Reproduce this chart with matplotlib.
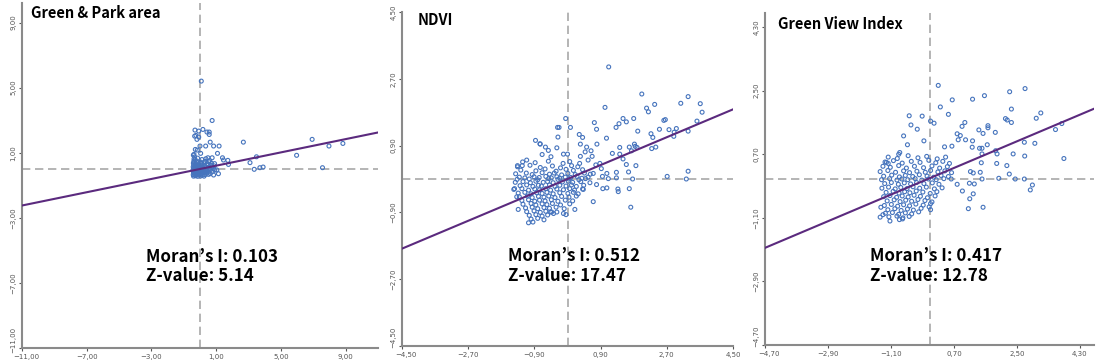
import numpy as np
import matplotlib.pyplot as plt
from matplotlib.transforms import ScaledTranslation

# Moran scatter plots: standardized value (x) vs spatial lag (y)

titles = ['Green & Park area', 'NDVI', 'Green View Index']
moran_i = ['0.103', '0.512', '0.417']
z_values = ['5.14', '17.47', '12.78']

# fitted line slopes / intercepts
slopes = [0.204, 0.417, 0.419]
intercepts = [0.0, 0.0, 0.02]

ticks_gp = [-11, -7, -3, 1, 5, 9]
ticks_ndvi = [-4.5, -2.7, -0.9, 0.9, 2.7, 4.5]
ticks_gvi = [-4.7, -2.9, -1.1, 0.7, 2.5, 4.3]

# Green & Park area points
gp_pts = np.array([
    (0.08, 5.40), (0.75, 2.98), (0.18, 2.43), (-0.31, 2.39), (0.43, 2.27), (0.57, 2.27),
    (0.57, 2.12), (-0.25, 2.06), (-0.08, 1.96), (0.63, 1.65), (0.35, 1.41), (0.84, 1.41),
    (1.18, 1.41), (2.68, 1.65), (6.93, 1.82), (8.83, 1.57), (7.97, 1.41), (5.97, 0.84),
    (3.49, 0.75), (3.09, 0.39), (3.70, 0.08), (3.90, 0.12), (3.35, -0.02), (7.57, 0.08),
    (1.72, 0.53), (1.76, 0.28), (1.39, 0.69), (1.45, 0.55), (1.08, 0.96), (0.75, 0.69),
    (0.49, 0.69), (0.04, 0.96), (-0.17, 1.16), (0.00, 1.41), (-0.19, 1.82), (-0.33, 2.02),
    (-0.08, 2.33), (-0.37, 0.90), (-0.29, 1.20), (0.90, 0.33), (1.14, -0.29), (0.84, -0.37),
    (1.04, -0.06),
    (-0.38, 0.48), (-0.22, 0.45), (0.05, 0.42), (0.31, 0.47), (0.55, 0.44),
    (-0.41, 0.36), (-0.28, 0.33), (-0.12, 0.38), (0.09, 0.34), (0.24, 0.37), (0.44, 0.32), (0.71, 0.35),
    (-0.39, 0.24), (-0.31, 0.21), (-0.18, 0.26), (-0.04, 0.22), (0.12, 0.25), (0.29, 0.20), (0.48, 0.24),
    (0.66, 0.22), (0.88, 0.19),
    (-0.42, 0.13), (-0.33, 0.11), (-0.24, 0.15), (-0.11, 0.12), (0.02, 0.14), (0.16, 0.10), (0.33, 0.13),
    (0.51, 0.11), (0.74, 0.14),
    (-0.40, 0.03), (-0.29, 0.05), (-0.19, 0.01), (-0.07, 0.04), (0.06, 0.02), (0.21, 0.05), (0.38, 0.01),
    (0.57, 0.04), (0.82, 0.02),
    (-0.43, -0.06), (-0.35, -0.08), (-0.26, -0.04), (-0.15, -0.07), (-0.02, -0.05), (0.11, -0.09),
    (0.26, -0.06), (0.43, -0.08), (0.62, -0.05), (0.91, -0.07),
    (-0.41, -0.16), (-0.32, -0.14), (-0.22, -0.18), (-0.10, -0.15), (0.03, -0.17), (0.18, -0.13),
    (0.34, -0.16), (0.53, -0.19), (0.77, -0.15),
    (-0.39, -0.26), (-0.30, -0.24), (-0.20, -0.28), (-0.08, -0.25), (0.07, -0.27), (0.22, -0.23),
    (0.40, -0.26), (0.63, -0.29),
    (-0.42, -0.35), (-0.33, -0.37), (-0.23, -0.33), (-0.12, -0.36), (0.01, -0.34), (0.15, -0.38),
    (0.31, -0.35), (0.52, -0.33),
    (-0.40, -0.44), (-0.27, -0.42), (-0.14, -0.45), (0.04, -0.43), (0.25, -0.44),
    (-0.37, 0.62), (-0.33, 0.74), (-0.41, 0.85), (-0.30, 0.58), (-0.15, 0.67), (0.12, 0.58),
    (0.36, 0.63), (0.60, 0.52),
])

# NDVI points
ndvi_pts = np.array([
    (1.12, 3.02), (2.02, 2.29), (3.28, 2.22), (3.08, 2.04), (3.61, 2.03), (2.37, 2.01),
    (2.15, 1.91), (2.20, 1.81), (3.66, 1.80), (1.02, 1.93), (1.51, 1.63), (1.80, 1.63),
    (1.60, 1.54), (1.40, 1.49), (1.32, 1.39), (0.73, 1.52), (0.79, 1.34), (2.66, 1.60),
    (2.62, 1.58), (3.52, 1.56), (2.50, 1.34), (2.76, 1.33), (2.96, 1.36), (3.28, 1.29),
    (2.90, 1.26), (2.89, 1.15), (2.27, 1.22), (2.32, 1.12), (1.91, 1.29), (1.06, 1.10),
    (-0.05, 1.63), (-0.27, 1.39), (-0.23, 1.39), (0.08, 1.39), (-0.26, 1.13), (0.32, 1.20),
    (0.41, 1.12), (-0.87, 1.04), (-0.75, 0.95), (-0.74, 0.94), (-0.29, 0.84), (-0.60, 0.86),
    (-0.52, 0.77), (-0.69, 0.66), (-0.45, 0.60), (-0.11, 0.67), (0.00, 0.67), (0.35, 0.94),
    (0.52, 0.86), (0.48, 0.73), (0.64, 0.76), (0.80, 0.94), (0.67, 0.61), (0.56, 0.51),
    (0.35, 0.61), (0.33, 0.42), (1.22, 0.69), (1.42, 0.85), (1.42, 0.67), (1.68, 0.86),
    (1.74, 0.76), (1.82, 0.94), (1.84, 0.88), (1.89, 0.85), (1.51, 0.54), (2.29, 0.82),
    (2.40, 0.86), (1.60, 0.39), (1.86, 0.36), (1.66, 0.19), (1.33, 0.18), (1.77, 0.00),
    (2.71, 0.07), (3.28, 0.21), (3.23, 0.00), (1.11, 0.01), (1.33, 0.03), (0.95, 0.07),
    (1.07, 0.15), (0.92, 0.28), (0.88, 0.42), (0.77, 0.38), (0.70, 0.15), (1.37, -0.27),
    (1.38, -0.34), (1.68, -0.26), (1.07, -0.24), (0.96, -0.26), (1.72, -0.76), (0.70, -0.61),
    (0.79, -0.15), (0.43, -0.28), (0.20, -0.82), (-0.04, -0.96), (-0.11, -0.93), (-0.29, -0.89),
    (-0.43, -0.89), (-0.38, -0.93), (-1.06, -1.18), (-1.34, -0.82), (-1.38, -0.48),
    (-1.44, -0.26), (-1.36, 0.36), (-1.23, 0.36), (-1.11, 0.51),
    (-1.22, 0.46), (-0.88, 0.44), (-0.52, 0.48), (-0.12, 0.42), (0.06, 0.47),
    (-1.36, 0.33), (-1.02, 0.37), (-0.74, 0.31), (-0.41, 0.35), (-0.19, 0.30), (0.11, 0.36), (0.28, 0.33),
    (-1.27, 0.24), (-0.86, 0.22), (-0.61, 0.27), (-0.31, 0.21), (-0.04, 0.26), (0.16, 0.23), (0.41, 0.25),
    (-1.41, 0.14), (-1.12, 0.16), (-0.96, 0.12), (-0.69, 0.17), (-0.49, 0.13), (-0.36, 0.16),
    (-0.16, 0.11), (0.01, 0.15), (0.21, 0.12), (0.46, 0.16), (0.62, 0.13),
    (-1.31, 0.05), (-1.16, 0.03), (-0.91, 0.06), (-0.77, 0.04), (-0.59, 0.07), (-0.44, 0.03),
    (-0.29, 0.06), (-0.21, 0.02), (-0.06, 0.05), (0.09, 0.04), (0.26, 0.07), (0.39, 0.02), (0.56, 0.05),
    (-1.37, -0.01), (-1.04, 0.00), (-0.81, -0.02), (-0.51, 0.01), (-0.26, -0.01), (0.04, 0.00),
    (0.31, -0.02), (0.49, 0.01),
    (-1.42, -0.09), (-1.21, -0.07), (-1.01, -0.10), (-0.86, -0.06), (-0.66, -0.09), (-0.54, -0.07),
    (-0.39, -0.10), (-0.14, -0.08), (0.02, -0.06), (0.14, -0.09), (0.36, -0.07), (0.61, -0.10),
    (-1.29, -0.18), (-1.11, -0.16), (-0.94, -0.20), (-0.79, -0.17), (-0.71, -0.19), (-0.49, -0.16),
    (-0.34, -0.20), (-0.21, -0.17), (-0.04, -0.19), (0.11, -0.16), (0.24, -0.20), (0.44, -0.17),
    (-1.46, -0.28), (-1.24, -0.26), (-1.06, -0.30), (-0.89, -0.27), (-0.76, -0.29), (-0.59, -0.26),
    (-0.46, -0.30), (-0.29, -0.27), (-0.11, -0.29), (0.06, -0.26), (0.19, -0.30), (0.41, -0.27),
    (-1.34, -0.38), (-1.16, -0.36), (-0.99, -0.40), (-0.84, -0.37), (-0.69, -0.39), (-0.56, -0.36),
    (-0.39, -0.40), (-0.21, -0.37), (0.01, -0.39), (0.16, -0.36), (0.29, -0.40),
    (-1.31, -0.48), (-1.09, -0.46), (-0.96, -0.50), (-0.79, -0.47), (-0.64, -0.49), (-0.51, -0.46),
    (-0.34, -0.50), (-0.16, -0.47), (0.04, -0.49), (0.24, -0.46),
    (-1.24, -0.58), (-1.06, -0.56), (-0.89, -0.60), (-0.76, -0.57), (-0.61, -0.59), (-0.44, -0.56),
    (-0.26, -0.60), (-0.06, -0.57), (0.14, -0.59),
    (-1.21, -0.68), (-0.99, -0.66), (-0.86, -0.70), (-0.69, -0.67), (-0.56, -0.69), (-0.41, -0.66),
    (-0.19, -0.70), (0.06, -0.67),
    (-1.14, -0.78), (-0.96, -0.76), (-0.81, -0.80), (-0.64, -0.77), (-0.49, -0.79), (-0.31, -0.76),
    (-0.09, -0.80),
    (-1.11, -0.88), (-0.91, -0.86), (-0.74, -0.90), (-0.59, -0.87), (-0.46, -0.89),
    (-1.04, -0.98), (-0.86, -0.96), (-0.69, -1.00), (-0.54, -0.97),
    (-0.99, -1.08), (-0.81, -1.06), (-0.64, -1.10), (-0.94, -1.16),
])

# Green View Index points
gvi_pts = np.array([
    (0.25, 2.65), (2.73, 2.56), (2.29, 2.47), (1.57, 2.36), (1.23, 2.26), (0.65, 2.24),
    (0.31, 2.04), (2.34, 1.98), (0.54, 1.83), (-0.21, 1.78), (0.03, 1.64), (0.13, 1.58),
    (3.18, 1.87), (3.05, 1.72), (2.17, 1.71), (2.22, 1.67), (2.34, 1.60), (3.78, 1.57),
    (3.60, 1.40), (1.67, 1.51), (1.67, 1.45), (1.53, 1.29), (1.88, 1.32), (1.41, 1.39),
    (0.93, 1.49), (1.01, 1.60), (0.79, 1.28), (0.88, 1.23), (1.23, 1.08), (1.03, 1.11),
    (1.22, 0.90), (1.43, 0.87), (1.50, 0.87), (1.65, 0.97), (0.64, 0.93), (0.43, 0.91),
    (0.82, 1.11), (2.71, 1.04), (3.01, 1.01), (3.84, 0.58), (2.39, 0.71), (2.72, 0.65),
    (1.89, 0.80), (1.93, 0.71), (1.50, 0.71), (1.48, 0.46), (1.92, 0.44), (2.21, 0.38),
    (2.28, 0.14), (1.98, 0.02), (2.45, 0.00), (2.71, 0.00), (2.94, -0.17), (2.88, -0.31),
    (1.45, 0.19), (1.50, 0.00), (1.53, -0.80), (1.11, -0.84), (1.15, -0.56), (1.25, -0.42),
    (1.28, -0.14), (1.14, -0.12), (0.94, -0.34), (0.79, -0.15), (0.62, 0.00), (1.17, 0.21),
    (1.25, 0.17), (-0.58, 1.79), (-0.53, 1.53), (-0.85, 0.75), (-0.88, 0.70), (-0.63, 0.97),
    (-0.74, 1.22), (-0.35, 1.41), (-0.16, 1.08), (-1.23, 0.47), (-1.18, 0.44), (-1.39, -0.80),
    (-1.41, -1.08), (-1.13, -1.19), (-0.77, -1.13), (0.03, -0.87),
    (-1.18, 0.62), (-0.92, 0.58), (-0.61, 0.66), (-0.33, 0.60), (-0.08, 0.64), (0.22, 0.57), (0.46, 0.62),
    (-1.27, 0.48), (-1.03, 0.52), (-0.78, 0.45), (-0.52, 0.50), (-0.27, 0.47), (-0.02, 0.53),
    (0.18, 0.46), (0.38, 0.50), (0.57, 0.44),
    (-1.33, 0.36), (-1.12, 0.33), (-0.88, 0.38), (-0.66, 0.31), (-0.43, 0.36), (-0.17, 0.32),
    (0.07, 0.37), (0.29, 0.31), (0.51, 0.35),
    (-1.41, 0.21), (-1.19, 0.24), (-0.97, 0.19), (-0.74, 0.23), (-0.57, 0.18), (-0.36, 0.22),
    (-0.12, 0.19), (0.03, 0.24), (0.24, 0.20), (0.44, 0.23), (0.63, 0.18),
    (-1.31, 0.08), (-1.08, 0.11), (-0.86, 0.06), (-0.69, 0.10), (-0.48, 0.07), (-0.29, 0.12),
    (-0.07, 0.08), (0.12, 0.05), (0.33, 0.10), (0.54, 0.07),
    (-1.37, -0.02), (-1.14, 0.01), (-0.93, -0.03), (-0.79, 0.00), (-0.62, -0.02), (-0.41, 0.01),
    (-0.22, -0.03), (-0.03, 0.00), (0.19, -0.02), (0.41, 0.01),
    (-1.28, -0.13), (-1.09, -0.10), (-0.89, -0.15), (-0.72, -0.11), (-0.54, -0.14), (-0.37, -0.10),
    (-0.16, -0.13), (0.08, -0.11), (0.27, -0.15),
    (-1.36, -0.26), (-1.17, -0.23), (-0.98, -0.28), (-0.82, -0.24), (-0.64, -0.27), (-0.47, -0.22),
    (-0.28, -0.26), (-0.09, -0.23), (0.14, -0.28), (0.36, -0.25),
    (-1.24, -0.38), (-1.04, -0.35), (-0.87, -0.40), (-0.71, -0.36), (-0.56, -0.39), (-0.38, -0.34),
    (-0.19, -0.37), (0.02, -0.41), (0.21, -0.36),
    (-1.31, -0.50), (-1.13, -0.47), (-0.94, -0.52), (-0.78, -0.48), (-0.61, -0.51), (-0.44, -0.46),
    (-0.26, -0.49), (-0.06, -0.53), (0.16, -0.48),
    (-1.21, -0.62), (-1.01, -0.59), (-0.84, -0.64), (-0.68, -0.60), (-0.51, -0.63), (-0.33, -0.58),
    (-0.13, -0.61), (0.07, -0.65),
    (-1.29, -0.75), (-1.09, -0.72), (-0.91, -0.77), (-0.74, -0.73), (-0.57, -0.76), (-0.39, -0.71),
    (-0.18, -0.74), (0.03, -0.70),
    (-1.19, -0.87), (-0.99, -0.84), (-0.81, -0.89), (-0.63, -0.85), (-0.46, -0.88), (-0.24, -0.83),
    (-0.01, -0.79),
    (-1.26, -0.97), (-1.06, -0.95), (-0.88, -1.00), (-0.69, -0.96), (-0.51, -0.99), (-0.31, -0.93),
    (-1.16, -1.07), (-0.93, -1.05), (-0.76, -1.10), (-0.58, -1.06), (-1.33, -1.01), (-0.86, -1.15),
])

W, H = 1103, 364
fig = plt.figure(figsize=(W / 100, H / 100), dpi=100)

# axes boxes in pixels: left, top, right, bottom
boxes = [(22, 3, 378, 348), (402, 12, 733, 346), (765, 13, 1094, 345)]
limits = [((-11, 11), (-11, 10.2)), ((-4.5, 4.5), (-4.5, 4.5)), ((-4.7, 4.7), (-4.7, 4.7))]
all_ticks = [ticks_gp, ticks_ndvi, ticks_gvi]
all_pts = [gp_pts, ndvi_pts, gvi_pts]
title_pos = [(31, 13), (418, 20), (778, 24)]
text_pos = [(146, 257, 276), (508, 256, 276), (870, 256, 276)]

txt_font = ['Noto Sans CJK KR', 'DejaVu Sans']


def fmt(v):
    return f'{v:.2f}'.replace('.', ',').replace('-', '\u2212')


for i in range(3):
    l, t, r, b = boxes[i]
    ax = fig.add_axes([l / W, 1 - b / H, (r - l) / W, (b - t) / H])
    xlim, ylim = limits[i]
    ax.set_xlim(*xlim)
    ax.set_ylim(*ylim)

    pts = all_pts[i]
    ax.scatter(pts[:, 0], pts[:, 1], s=8, facecolors='none', edgecolors='#4674bd',
               linewidths=0.8, zorder=3)

    # mean lines
    ax.axvline(0, color='#a8a8a8', lw=1.2, dashes=(5, 2.8), zorder=2)
    ax.axhline(0, color='#a8a8a8', lw=1.2, dashes=(5, 2.8), zorder=2)

    # fitted line
    xs = np.array(xlim)
    ax.plot(xs, slopes[i] * xs + intercepts[i], color='#5b2a7e', lw=1.5, zorder=4)

    ticks = all_ticks[i]
    ax.set_xticks(ticks)
    ax.set_yticks(ticks)
    ax.set_xticklabels([fmt(v) for v in ticks])
    ax.set_yticklabels([fmt(v) for v in ticks], rotation=90, va='center')
    ax.tick_params(labelsize=5, colors='#555555', length=2, width=0.8, pad=2)

    # nudge corner labels apart
    lab = ax.get_yticklabels()[0]
    lab.set_transform(lab.get_transform() + ScaledTranslation(0, 6 / 72, fig.dpi_scale_trans))
    lab = ax.get_xticklabels()[0]
    lab.set_transform(lab.get_transform() + ScaledTranslation(3 / 72, 0, fig.dpi_scale_trans))

    for s in ['top', 'right']:
        ax.spines[s].set_visible(False)
    for s in ['left', 'bottom']:
        ax.spines[s].set_color('#8a8a8a')
        ax.spines[s].set_linewidth(1.5)

    tx, ty = title_pos[i]
    fig.text(tx / W, 1 - ty / H, titles[i], family=txt_font, fontweight='bold',
             fontsize=10.5, va='center', ha='left')

    mx, my1, my2 = text_pos[i]
    fig.text(mx / W, 1 - my1 / H, 'Moran\u2019s I: ' + moran_i[i], family=txt_font,
             fontweight='bold', fontsize=12.2, va='center', ha='left')
    fig.text(mx / W, 1 - my2 / H, 'Z-value: ' + z_values[i], family=txt_font,
             fontweight='bold', fontsize=12.2, va='center', ha='left')

fig.savefig('out.png', dpi=100)
